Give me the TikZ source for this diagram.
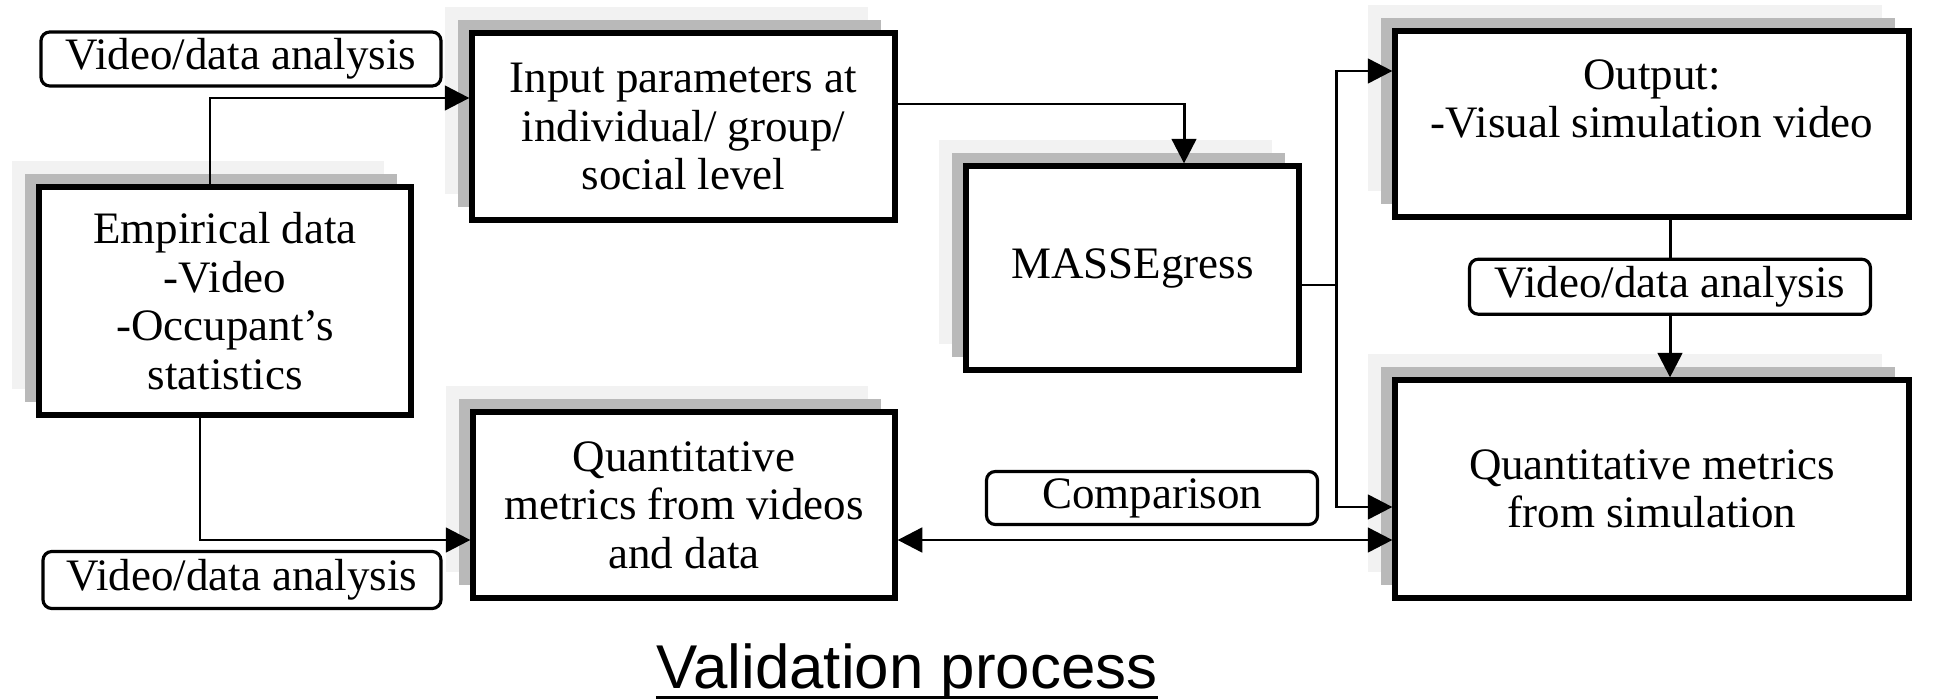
\documentclass[tikz,border=0pt]{standalone}
\usepackage{fontspec}
\setmainfont{Liberation Serif}
\newfontfamily\headfont{Liberation Sans}
\usepackage{tikz}
\usetikzlibrary{arrows.meta, positioning, shadows}
\newcommand{\boxfont}{\fontsize{12.8}{13.8}\selectfont}

\begin{document}
\begin{tikzpicture}[
  node distance=0.38cm,
  box/.style={rectangle, draw, line width=1.5pt, fill=white, align=center, font=\boxfont, inner sep=2pt,
    general shadow={fill=gray!10, shadow xshift=-0.27cm, shadow yshift=0.26cm},
    general shadow={fill=gray!55, shadow xshift=-0.14cm, shadow yshift=0.13cm}},
  tag/.style={rectangle, rounded corners=2.5pt, draw, line width=0.9pt, fill=white, font=\boxfont, inner sep=0pt},
  arr/.style={-{Triangle[length=7pt, width=7pt]}, line width=0.85pt},
  dblarr/.style={{Triangle[length=7pt, width=7pt]}-{Triangle[length=7pt, width=7pt]}, line width=0.85pt},
]
\useasboundingbox (0,0) rectangle (19.35,-6.99);

\node[box, minimum width=3.72cm, minimum height=2.28cm] (emp) at (2.25,-3.01) {Empirical data\\-Video\\-Occupant’s\\statistics};
\node[box, minimum width=4.23cm, minimum height=1.87cm] (input) at (6.835,-1.265) {Input parameters at\\individual/ group/\\social level};
\node[box, minimum width=3.33cm, minimum height=2.04cm] (mass) at (11.325,-2.68) {MASSEgress};
\node[box, minimum width=5.14cm, minimum height=1.86cm] (output) at (16.52,-1.24) {Output:\\-Visual simulation video\\\rule[-0.7pt]{0pt}{0.7pt}};
\node[box, minimum width=5.14cm, minimum height=2.18cm] (sim) at (16.52,-4.89) {Quantitative metrics\\from simulation};
\node[box, minimum width=4.22cm, minimum height=1.86cm] (quant) at (6.84,-5.05) {Quantitative\\metrics from videos\\and data};

\node[tag, minimum width=4.00cm, minimum height=0.54cm] (tagTop) at (2.41,-0.59) {Video/data analysis};
\node[tag, minimum width=3.98cm, minimum height=0.57cm] (tagBot) at (2.42,-5.80) {Video/data analysis};
\node[tag, minimum width=4.01cm, minimum height=0.55cm, below=of output, xshift=0.18cm] (tagRight) {Video/data analysis};
\node[tag, minimum width=3.31cm, minimum height=0.53cm] (tagCmp) at (11.52,-4.98) {Comparison};

\node[font=\headfont\fontsize{17.6}{20}\selectfont, inner sep=0pt, anchor=base] (title) at (9.07,-6.88) {Validation process};
\draw[line width=0.85pt] ([yshift=-0.09cm]title.base west) -- ([yshift=-0.09cm]title.base east);

\draw[arr] ([xshift=-0.15cm]emp.north) |- ([yshift=0.285cm]input.west);
\draw[arr] ([yshift=0.225cm]input.east) -| ([xshift=0.515cm]mass.north);
\draw[arr] ([yshift=-0.17cm]mass.east) -- ++(0.35,0) coordinate (split) |- ([yshift=0.53cm]output.west);
\draw[arr] (split) |- ([yshift=-0.18cm]sim.west);
\draw[line width=0.85pt] (output.south -| tagRight.north) -- (tagRight.north);
\draw[arr] (tagRight.south) -- (tagRight.south |- sim.north);
\draw[arr] ([xshift=-0.25cm]emp.south) |- ([yshift=-0.35cm]quant.west);
\draw[dblarr] ([yshift=-0.35cm]quant.east) -- ([yshift=-0.35cm]quant.east -| sim.west);
\end{tikzpicture}
\end{document}
